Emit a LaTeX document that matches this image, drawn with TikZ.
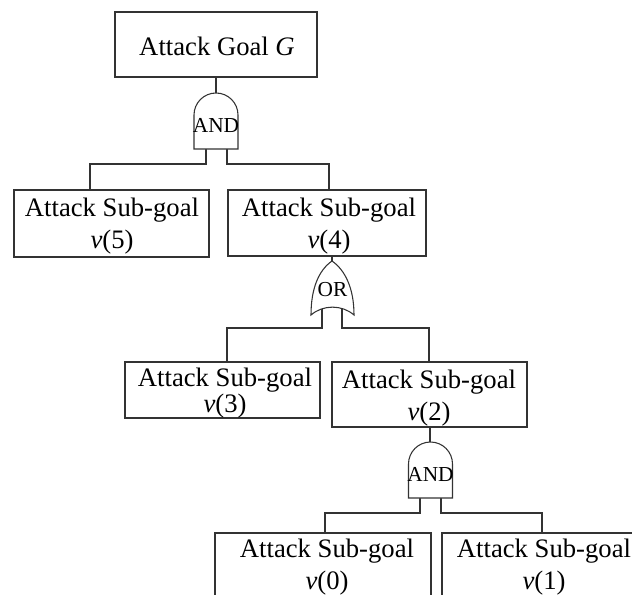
\documentclass[tikz,border=0pt]{standalone}
\usepackage{fontspec}
\setmainfont{Liberation Serif}
\begin{document}
\begin{tikzpicture}[x=0.75pt,y=-0.75pt,
  box/.style={draw=black!80, line width=0.8pt, inner sep=0pt, rectangle},
  boxtext/.style={align=center, font=\fontsize{20}{24}\selectfont, inner sep=0pt},
  tighttext/.style={align=center, font=\fontsize{20}{17.5}\selectfont, inner sep=0pt},
  gatetext/.style={font=\fontsize{16}{18}\selectfont, inner sep=0pt},
  wire/.style={draw=black!80, line width=0.8pt},
  gate/.style={draw=black!80, line width=0.8pt, fill=white}]
\useasboundingbox (0,0) rectangle (632,594);
\clip (0,0) rectangle (632,594);

% ---- boxes ----
\node[box, minimum width=151.5pt, minimum height=48.75pt] (goal) at (216,44.5) {};
\node[boxtext] (goalt) at (217,46) {Attack Goal \textit{G}};

\node[box, minimum width=146.25pt, minimum height=50.25pt] (v5) at (111.5,223.5) {};
\node[boxtext] (v5t) at (112,226) {Attack Sub-goal\\\textit{v}(5)};

\node[box, minimum width=148.5pt, minimum height=49.5pt] (v4) at (327,223) {};
\node[boxtext] (v4t) at (329,226) {Attack Sub-goal\\\textit{v}(4)};

\node[box, minimum width=146.25pt, minimum height=42pt] (v3) at (222.5,390) {};
\node[tighttext] (v3t) at (225,393) {Attack Sub-goal\\\textit{v}(3)};

\node[box, minimum width=146.25pt, minimum height=48.75pt] (v2) at (429.5,394.5) {};
\node[boxtext] (v2t) at (429,398) {Attack Sub-goal\\\textit{v}(2)};

\node[box, minimum width=162pt, minimum height=48pt] (v0) at (323,565) {};
\node[boxtext] (v0t) at (327,567) {Attack Sub-goal\\\textit{v}(0)};

\node[box, minimum width=153pt, minimum height=48pt] (v1) at (544,565) {};
\node[boxtext] (v1t) at (544,567) {Attack Sub-goal\\\textit{v}(1)};

% ---- gate ports ----
\coordinate (a1in) at (216,93);
\coordinate (a1l) at (206,149);
\coordinate (a1r) at (227,149);
\coordinate (v5in) at (90,190);
\coordinate (v4in) at (329,190);

\coordinate (v4out) at (332,256);
\coordinate (orin) at (332,261);
\coordinate (orl) at (322,309);
\coordinate (orr) at (342,309);
\coordinate (v3in) at (227,362);
\coordinate (v2in) at (429,362);

\coordinate (v2out) at (430,427);
\coordinate (a2in) at (430,442);
\coordinate (a2l) at (420,498);
\coordinate (a2r) at (441,498);
\coordinate (v0in) at (325,533);
\coordinate (v1in) at (542,533);

% ---- connectors ----
\draw[wire] (goal.south) -- (a1in);
\draw[wire] (a1l) -- ++(0,15) -| (v5in);
\draw[wire] (a1r) -- ++(0,15) -| (v4in);

\draw[wire] (v4out) -- (orin);
\draw[wire] (orl) -- ++(0,19) -| (v3in);
\draw[wire] (orr) -- ++(0,19) -| (v2in);

\draw[wire] (v2out) -- (a2in);
\draw[wire] (a2l) -- ++(0,15) -| (v0in);
\draw[wire] (a2r) -- ++(0,15) -| (v1in);

% ---- AND gate under the goal ----
\draw[gate] (194,149) -- (194,115)
  .. controls (194,102.85) and (203.85,93) .. (216,93)
  .. controls (228.15,93) and (238,102.85) .. (238,115) -- (238,149) -- cycle;
\node[gatetext] (and1) at (216,125) {AND};

% ---- OR gate under v(4) ----
\draw[gate] (orin) .. controls (319,270) and (311,288) .. (311,315)
  .. controls (323,304.5) and (342,304.5) .. (354,315)
  .. controls (354,288) and (345,270) .. (orin) -- cycle;
\node[gatetext] (or1) at (332.5,290) {OR};

% ---- AND gate under v(2) ----
\draw[gate] (408.5,498) -- (408.5,464)
  .. controls (408.5,451.85) and (418.35,442) .. (430.5,442)
  .. controls (442.65,442) and (452.5,451.85) .. (452.5,464) -- (452.5,498) -- cycle;
\node[gatetext] (and2) at (430.5,474) {AND};
\end{tikzpicture}
\end{document}
